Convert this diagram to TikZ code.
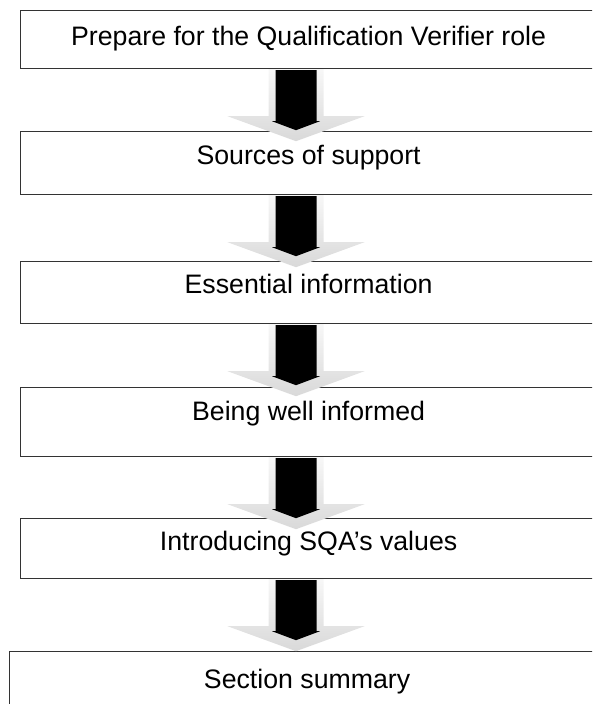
\documentclass[tikz,border=0pt]{standalone}
\usepackage{fontspec}
\setmainfont{Liberation Sans}
\usetikzlibrary{positioning, calc}
\tikzset{
	qvbox/.style={draw=black!80, line width=1.2pt, inner sep=0pt, anchor=north west,
		minimum width=576pt, font=\fontsize{26.7}{32}\selectfont},
	qvshade/.style={top color=black!3, bottom color=black!15, draw=none},
	qvhead/.style={fill=black, draw=none}
}
\newcommand{\qvdown}[1]{%
	\begin{scope}[shift={($(#1.south west)+(276,0)$)}]
		\path[qvshade] (-27.5,0) -- (27.5,0) -- (27.5,47) -- (68.5,47) -- (0,72)
			-- (-68.5,47) -- (-27.5,47) -- cycle;
		\path[qvhead] (-20.5,1) -- (20.5,1) -- (20.5,52) -- (24,52) -- (0,61)
			-- (-24,52) -- (-20.5,52) -- cycle;
	\end{scope}}

\begin{document}
\begin{tikzpicture}[x=1pt, y=-1pt]
	\useasboundingbox (0,0) rectangle (592,704);
	\clip (0,0) rectangle (592,704);
	
	\node[qvbox, text height=35pt, text depth=23pt] (s1) at (20,10) {Prepare for the Qualification Verifier role};
	\node[qvbox, text height=33pt, text depth=30pt] (s2) at (20,131) {Sources of support};
	\node[qvbox, text height=32pt, text depth=30pt] (s3) at (20,261) {Essential information};
	\node[qvbox, text height=33pt, text depth=36pt] (s4) at (20,387) {Being well informed};
	\node[qvbox, text height=32pt, text depth=28pt] (s5) at (20,518) {Introducing SQA’s values};
	\node[qvbox, text height=37pt, text depth=53pt, minimum width=595pt] (s6) at (9,651) {Section summary};
	
	% down arrows between the sections
	\foreach \i in {1,...,5} {\qvdown{s\i}}
\end{tikzpicture}
\end{document}
